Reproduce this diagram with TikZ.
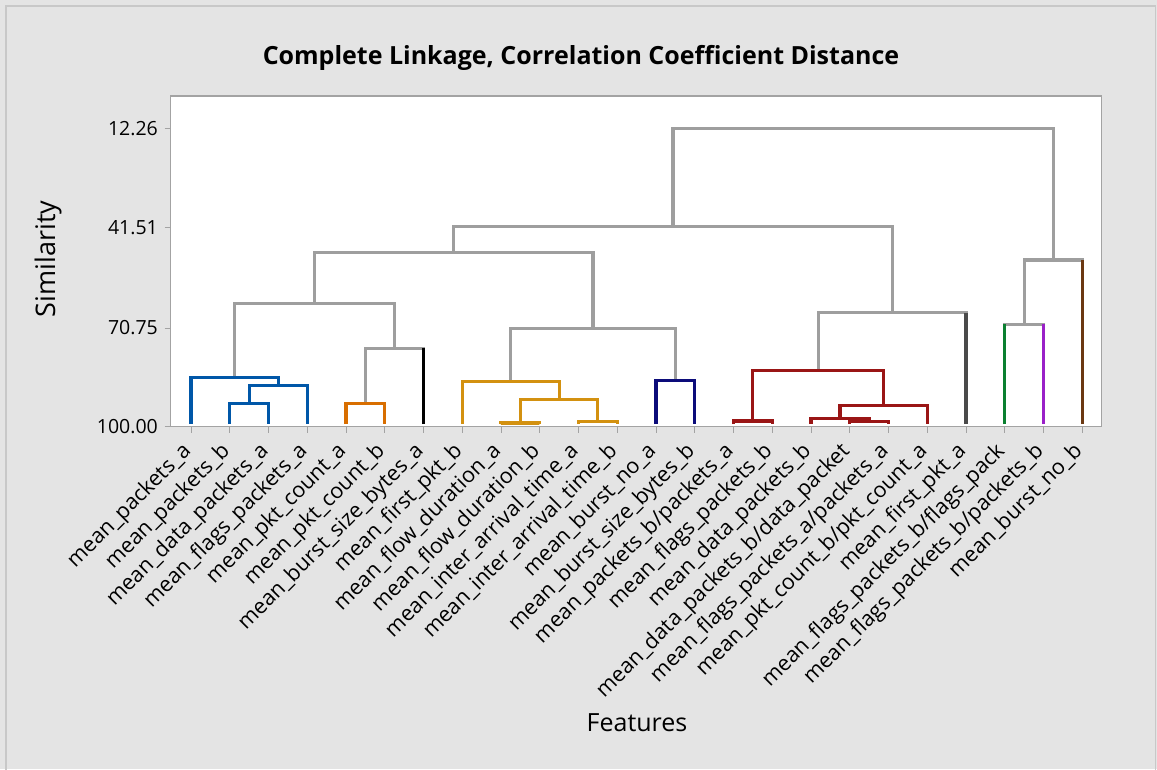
\documentclass[tikz,border=0pt]{standalone}
\usepackage{fontspec}
\setmainfont{Open Sans}
\definecolor{bgout}{HTML}{E4E4E4}
\definecolor{framegray}{HTML}{C8C8C8}
\definecolor{axisgray}{HTML}{A3A3A3}
\definecolor{linkgray}{HTML}{9E9E9E}
\definecolor{cblue}{HTML}{0057A8}
\definecolor{corange}{HTML}{D86E00}
\definecolor{cgold}{HTML}{D39110}
\definecolor{cnavy}{HTML}{0C0C7A}
\definecolor{cred}{HTML}{9A1515}
\definecolor{cdgray}{HTML}{4A4A4A}
\definecolor{cgreen}{HTML}{0A8030}
\definecolor{cpurple}{HTML}{9A20C8}
\definecolor{cbrown}{HTML}{6B3812}
\begin{document}
\begin{tikzpicture}[x=1pt,y=-1pt,
  link/.style={line width=3.2pt, line join=miter, line cap=butt, draw=#1},
  link/.default=linkgray,
  tickmark/.style={axisgray, line width=1pt},
  leaflabel/.style={anchor=base east, rotate=45, inner sep=0pt, font=\fontsize{21.5}{24}\selectfont},
  ticklabel/.style={anchor=east, inner sep=0pt, font=\fontsize{19.5}{22}\selectfont},
  axislabel/.style={inner sep=0pt, font=\fontsize{25}{30}\selectfont},
  titlelabel/.style={inner sep=0pt, font=\fontsize{25}{30}\selectfont\bfseries}]
\useasboundingbox (0,0) rectangle (1157,769);
% page and plot area
\fill[bgout] (0,0) rectangle (1157,769);
\draw[framegray, line width=1.5pt] (6,775) -- (6,6) -- (1155.3,6) -- (1155.3,775);
\fill[white] (170.5,96) rectangle (1101.7,426.7);
\draw[axisgray, line width=1.2pt] (170.5,96) rectangle (1101.7,426.7);

% leaves
\foreach \i in {1,...,24} {
  \coordinate (L\i) at ({191+38.75*(\i-1)},424);
  \draw[tickmark] ({191+38.75*(\i-1)},426.7) -- ++(0,6.5);
}

% y axis ticks
\foreach \v/\yy in {12.26/128.3, 41.51/227.7, 70.75/328, 100.00/426.7} {
  \draw[tickmark] (164.5,\yy) -- (170.5,\yy);
  \node[ticklabel] (t\v) at (158,\yy) {\v};
}

% merge points
\coordinate (m23)   at (249.13,403.3);
\coordinate (m234)  at (278.19,385.7);
\coordinate (mB)    at (234.60,377.7);
\coordinate (m56)   at (365.38,403.3);
\coordinate (m567)  at (394.44,348.3);
\coordinate (mA)    at (314.52,303.3);
\coordinate (m910)  at (520.38,423.0);
\coordinate (m1112) at (597.88,421.5);
\coordinate (m912)  at (559.13,399.3);
\coordinate (mG)    at (510.69,381.7);
\coordinate (m1314) at (675.38,380.7);
\coordinate (mGN)   at (593.03,328.3);
\coordinate (mAG)   at (453.78,252.7);
\coordinate (m1516) at (752.88,421.0);
\coordinate (m1819) at (869.13,421.7);
\coordinate (m1719) at (840.06,418.3);
\coordinate (m1720) at (883.66,405.7);
\coordinate (mR)    at (818.27,370.7);
\coordinate (mR21)  at (892.13,312.7);
\coordinate (mL)    at (672.95,226.7);
\coordinate (m2223) at (1024.13,324.3);
\coordinate (m2224) at (1053.19,260.0);
\coordinate (mTop)  at (863.07,128.3);

% links above the clusters
\draw[link] (mL) |- (mTop) -| (m2224);
\draw[link] (mAG) |- (mL) -| (mR21);
\draw[link] (mA) |- (mAG) -| (mGN);
\draw[link] (mB) |- (mA) -| (m567);
\draw[link] (m56) |- (m567) -| (L7);
\draw[link] (mG) |- (mGN) -| (m1314);
\draw[link] (mR) |- (mR21) -| (L21);
\draw[link] (m2223) |- (m2224) -| (L24);
\draw[link] (L22) |- (m2223) -| (L23);

% blue cluster
\draw[link=cblue] (L1) |- (mB) -| (m234);
\draw[link=cblue] (m23) |- (m234) -| (L4);
\draw[link=cblue] (L2) |- (m23) -| (L3);
% orange cluster
\draw[link=corange] (L5) |- (m56) -| (L6);
% gold cluster
\draw[link=cgold] (L8) |- (mG) -| (m912);
\draw[link=cgold] (m910) |- (m912) -| (m1112);
\draw[link=cgold] (L9) |- (m910) -| (L10);
\draw[link=cgold] (L11) |- (m1112) -| (L12);
% navy cluster
\draw[link=cnavy] (L13) |- (m1314) -| (L14);
% red cluster
\draw[link=cred] (m1516) |- (mR) -| (m1720);
\draw[link=cred] (L15) |- (m1516) -| (L16);
\draw[link=cred] (m1719) |- (m1720) -| (L20);
\draw[link=cred] (L17) |- (m1719) -| (m1819);
\draw[link=cred] (L18) |- (m1819) -| (L19);

% single-member clusters
\draw[link=black] (L7) -- (L7 |- m567);
\draw[link=cdgray] (L21) -- (L21 |- mR21);
\draw[link=cgreen] (L22) -- (L22 |- m2223);
\draw[link=cpurple] (L23) -- (L23 |- m2223);
\draw[link=cbrown] (L24) -- (L24 |- m2224);

% leaf labels
\foreach \i/\lab in {1/{mean\_packets\_a}, 2/{mean\_packets\_b}, 3/{mean\_data\_packets\_a},
  4/{mean\_flags\_packets\_a}, 5/{mean\_pkt\_count\_a}, 6/{mean\_pkt\_count\_b},
  7/{mean\_burst\_size\_bytes\_a}, 8/{mean\_first\_pkt\_b}, 9/{mean\_flow\_duration\_a},
  10/{mean\_flow\_duration\_b}, 11/{mean\_inter\_arrival\_time\_a}, 12/{mean\_inter\_arrival\_time\_b},
  13/{mean\_burst\_no\_a}, 14/{mean\_burst\_size\_bytes\_b}, 15/{mean\_packets\_b/packets\_a},
  16/{mean\_flags\_packets\_b}, 17/{mean\_data\_packets\_b}, 18/{mean\_data\_packets\_b/data\_packet},
  19/{mean\_flags\_packets\_a/packets\_a}, 20/{mean\_pkt\_count\_b/pkt\_count\_a},
  21/{mean\_first\_pkt\_a}, 22/{mean\_flags\_packets\_b/flags\_pack},
  23/{mean\_flags\_packets\_b/packets\_b}, 24/{mean\_burst\_no\_b}} {
  \node[leaflabel] (lab\i) at ({191+38.75*(\i-1)+1},452) {\lab};
}

% titles
\node[titlelabel] (title) at (581,58) {Complete Linkage, Correlation Coefficient Distance};
\node[axislabel, rotate=90, font=\fontsize{27}{30}\selectfont] (ylab) at (48,259) {Similarity};
\node[axislabel] (xlab) at (637,723) {Features};
\end{tikzpicture}
\end{document}
